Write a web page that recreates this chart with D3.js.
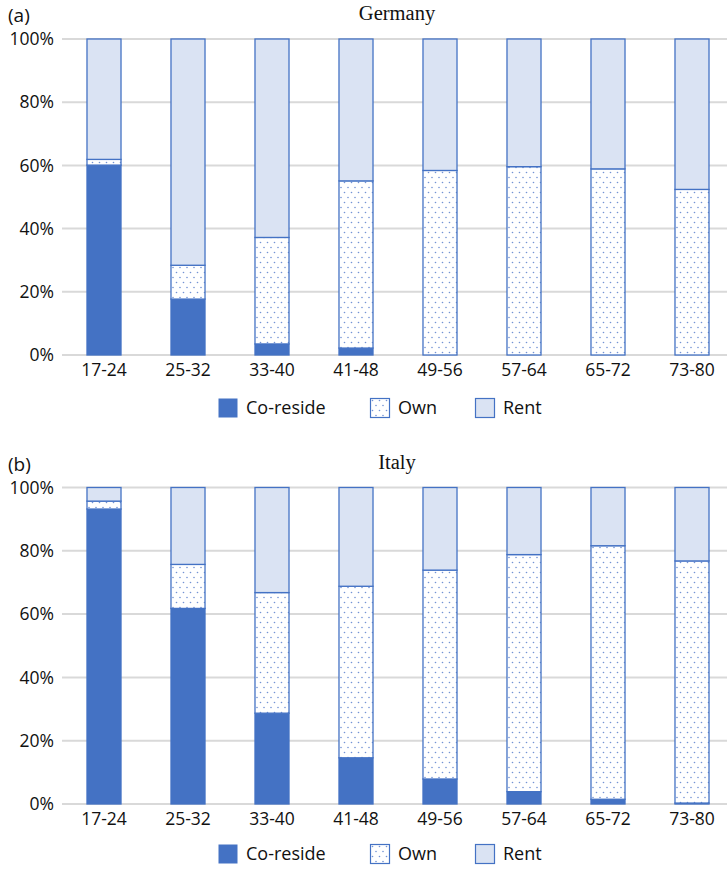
<!DOCTYPE html>
<html>
<head>
<meta charset="utf-8">
<script src="https://cdn.jsdelivr.net/npm/d3@7/dist/d3.min.js"></script>
<style>
  html, body { margin: 0; padding: 0; background: #fff; }
  svg { display: block; }
</style>
</head>
<body>
<svg id="chart" width="727" height="869"></svg>
<script>
// Age groups on the x axis
const ageGroups = ["17-24", "25-32", "33-40", "41-48", "49-56", "57-64", "65-72", "73-80"];
const seriesNames = ["Co-reside", "Own", "Rent"];
const yTicks = [0, 20, 40, 60, 80, 100];

// Housing shares (%) by age group
const germanyCoreside = [60.1, 17.7, 3.5, 2.2, 0.0, 0.0, 0.0, 0.0];
const germanyOwn      = [1.8, 10.7, 33.7, 52.9, 58.4, 59.6, 58.9, 52.4];
const germanyRent     = [38.1, 71.6, 62.8, 44.9, 41.6, 40.4, 41.1, 47.6];

const italyCoreside = [93.2, 61.8, 28.7, 14.6, 7.9, 3.9, 1.5, 0.3];
const italyOwn      = [2.5, 13.9, 38.1, 54.2, 66.0, 74.9, 80.1, 76.5];
const italyRent     = [4.3, 24.3, 33.2, 31.2, 26.1, 21.2, 18.4, 23.2];

const panels = [
  { tag: "(a)", title: "Germany", values: [germanyCoreside, germanyOwn, germanyRent], top: 39, bottom: 355, legendY: 408 },
  { tag: "(b)", title: "Italy", values: [italyCoreside, italyOwn, italyRent], top: 487.5, bottom: 804, legendY: 854 }
];

const blue = "#4472C4";
const rentFill = "#DAE3F3";
const gridColor = "#d9d9d9";
const sansFont = "'Open Sans', 'Liberation Sans', sans-serif";
const serifFont = "'Liberation Serif', 'DejaVu Serif', serif";

const svg = d3.select("#chart");

// Dotted fill used for the "Own" segments
const defs = svg.append("defs");
const pat = defs.append("pattern")
  .attr("id", "dots")
  .attr("patternUnits", "userSpaceOnUse")
  .attr("width", 7).attr("height", 10);
pat.append("rect").attr("width", 7).attr("height", 10).attr("fill", "#fff");
pat.append("circle").attr("cx", 1.5).attr("cy", 2.5).attr("r", 0.8).attr("fill", "#7393d4");
pat.append("circle").attr("cx", 5).attr("cy", 7.5).attr("r", 0.8).attr("fill", "#7393d4");

const fills = [blue, "url(#dots)", rentFill];

const x = d3.scaleBand().domain(ageGroups).range([62, 734]).paddingInner(0.595).paddingOuter(0.2975);

panels.forEach(p => {
  const g = svg.append("g");
  const y = d3.scaleLinear().domain([0, 100]).range([p.bottom, p.top]);

  // Gridlines
  g.append("g").selectAll("line").data(yTicks).join("line")
    .attr("x1", 62).attr("x2", 727)
    .attr("y1", d => y(d)).attr("y2", d => y(d))
    .attr("stroke", gridColor).attr("stroke-width", 2);

  // Y axis labels
  const yAxis = d3.axisLeft(y).tickValues(yTicks).tickFormat(d => d + "%").tickSize(0).tickPadding(0);
  const ya = g.append("g").attr("transform", "translate(54,0)").call(yAxis);
  ya.select(".domain").remove();
  ya.selectAll("text").attr("font-family", sansFont).attr("font-size", 17.5).attr("fill", "#111");

  // X axis labels
  const xAxis = d3.axisBottom(x).tickSize(0).tickPadding(0);
  const xa = g.append("g").attr("transform", `translate(0,${p.bottom + 9})`).call(xAxis);
  xa.select(".domain").remove();
  xa.selectAll("text").attr("font-family", sansFont).attr("font-size", 17.5).attr("fill", "#111");

  // Stacked bars
  const rows = ageGroups.map((a, i) => {
    const r = { age: a };
    seriesNames.forEach((s, k) => r[s] = p.values[k][i]);
    return r;
  });
  const stacked = d3.stack().keys(seriesNames)(rows);
  stacked.forEach((layer, k) => {
    g.append("g").selectAll("rect").data(layer).join("rect")
      .attr("x", d => x(d.data.age))
      .attr("width", x.bandwidth())
      .attr("y", d => y(d[1]))
      .attr("height", d => Math.max(0, y(d[0]) - y(d[1])))
      .attr("fill", fills[k])
      .attr("stroke", d => (d[1] - d[0]) > 0 ? blue : "none")
      .attr("stroke-width", 1.3);
  });

  // Panel tag and title
  svg.append("text").attr("x", 8).attr("y", p.top - 17)
    .attr("font-family", sansFont).attr("font-size", 19).attr("fill", "#111").text(p.tag);
  svg.append("text").attr("x", 397).attr("y", p.top - 19).attr("text-anchor", "middle")
    .attr("font-family", serifFont).attr("font-size", 20.5).attr("fill", "#111").text(p.title);

  // Legend
  const legendX = [218, 370, 475];
  const lg = svg.append("g").attr("transform", `translate(0,${p.legendY})`);
  seriesNames.forEach((s, k) => {
    lg.append("rect").attr("x", legendX[k] + 0.5).attr("y", -9.5).attr("width", 19).attr("height", 19)
      .attr("fill", fills[k]).attr("stroke", k === 0 ? "none" : blue).attr("stroke-width", 1.2);
    lg.append("text").attr("x", legendX[k] + 28).attr("y", 0).attr("dy", "0.35em")
      .attr("font-family", sansFont).attr("font-size", 18).attr("fill", "#111").text(s);
  });
});
</script>
</body>
</html>
